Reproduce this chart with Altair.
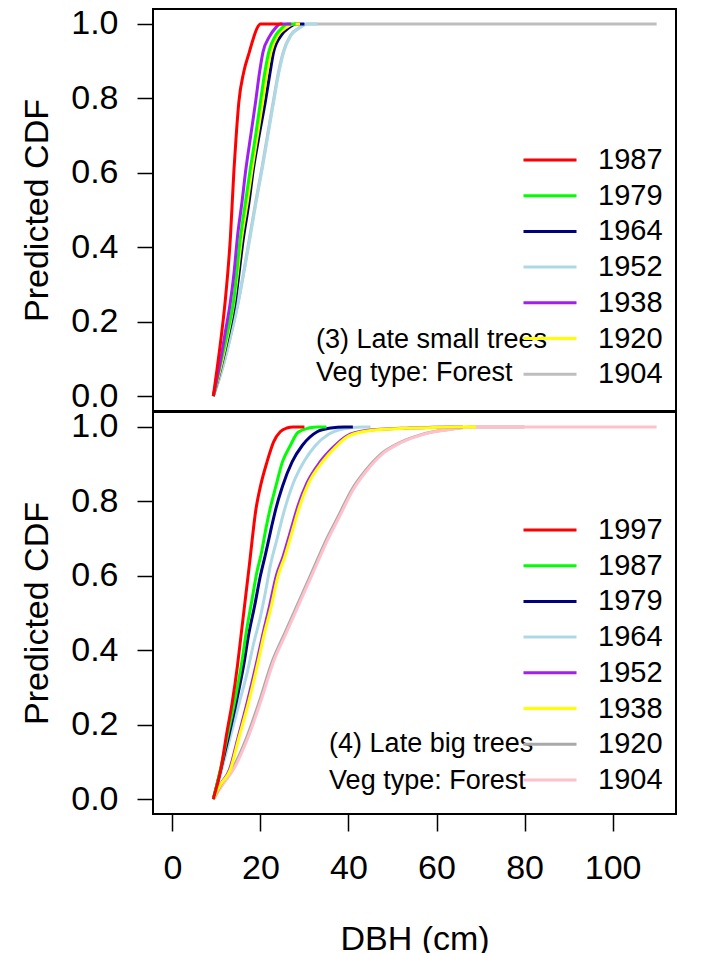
import altair as alt
import pandas as pd

# ---------------- data ----------------
x_ticks = [0, 20, 40, 60, 80, 100]
y_ticks = [0.0, 0.2, 0.4, 0.6, 0.8, 1.0]

# Panel (3): late small trees
years_top = ["1987", "1979", "1964", "1952", "1938", "1920", "1904"]
colors_top = ["#ff0000", "#00ff00", "#000080", "#add8e6", "#a020f0", "#ffff00", "#bebebe"]
widths_top = [3, 3, 3, 4.5, 3, 3.5, 3]
draw_order_top = ["1904", "1952", "1964", "1920", "1979", "1938", "1987"]

red87_x = [9.3, 10, 11, 12, 13.2, 14, 14.5, 15.1, 16.2, 17.5, 18.5, 19.3, 20, 25]
red87_y = [0, 0.06, 0.15, 0.255, 0.43, 0.61, 0.70, 0.79, 0.87, 0.925, 0.965, 0.99, 1.0, 1.0]
grn79_x = [9.3, 11, 12.5, 13.9, 15.5, 16.6, 17.7, 18.9, 20, 21, 21.9, 23.5, 25, 26, 28]
grn79_y = [0, 0.09, 0.17, 0.255, 0.43, 0.52, 0.61, 0.70, 0.79, 0.87, 0.925, 0.97, 0.99, 1.0, 1.0]
nav64_x = [9.3, 11, 12.5, 14.3, 16.2, 17.4, 18.4, 19.7, 21.1, 22.2, 23, 24.8, 26.5, 28, 30]
nav64_y = [0, 0.075, 0.15, 0.255, 0.43, 0.52, 0.61, 0.70, 0.79, 0.87, 0.925, 0.97, 0.99, 1.0, 1.0]
lbl52_x = [9.3, 11, 13, 15, 17.7, 19, 20.4, 21.7, 23, 24.2, 25.3, 27, 29, 30.6, 33]
lbl52_y = [0, 0.06, 0.15, 0.255, 0.43, 0.52, 0.61, 0.70, 0.79, 0.87, 0.925, 0.97, 0.99, 1.0, 1.0]
pur38_x = [9.3, 11, 12, 13.2, 14, 14.8, 15.8, 16.7, 17.8, 18.9, 19.8, 20.6, 22, 23.5, 24.5, 27]
pur38_y = [0, 0.10, 0.17, 0.255, 0.33, 0.43, 0.52, 0.61, 0.70, 0.79, 0.87, 0.925, 0.965, 0.99, 1.0, 1.0]
yel20_x = [9.3, 11, 12.5, 14, 15.8, 17, 18.1, 19.3, 20.5, 21.5, 22.4, 24, 25.8, 27.5, 29]
yel20_y = [0, 0.08, 0.16, 0.255, 0.43, 0.52, 0.61, 0.70, 0.79, 0.87, 0.925, 0.97, 0.99, 1.0, 1.0]
gry04_x = [9.3, 11, 13, 15, 17.6, 18.9, 20.3, 21.6, 22.9, 24.1, 25.2, 26.9, 28.9, 30.5, 110]
gry04_y = [0, 0.06, 0.15, 0.255, 0.43, 0.52, 0.61, 0.70, 0.79, 0.87, 0.925, 0.97, 0.99, 1.0, 1.0]

series_top = {
    "1987": (red87_x, red87_y), "1979": (grn79_x, grn79_y), "1964": (nav64_x, nav64_y),
    "1952": (lbl52_x, lbl52_y), "1938": (pur38_x, pur38_y), "1920": (yel20_x, yel20_y),
    "1904": (gry04_x, gry04_y),
}
notes_top = ["(3) Late small trees", "Veg type: Forest"]
notes_top_x = [32.6, 32.6]
notes_top_y = [0.150, 0.062]

# Panel (4): late big trees
years_bot = ["1997", "1987", "1979", "1964", "1952", "1938", "1920", "1904"]
colors_bot = ["#ff0000", "#00ff00", "#000080", "#add8e6", "#a020f0", "#ffff00", "#a9a9a9", "#ffc0cb"]
widths_bot = [3, 3, 3, 4.5, 2.5, 3.5, 3, 5.5]
draw_order_bot = ["1920", "1904", "1964", "1979", "1987", "1952", "1938", "1997"]

red97_x = [9.3, 11, 12.4, 13.6, 14.8, 15.6, 16.5, 17.5, 19, 20, 21.5, 23, 24.5, 26, 27.5, 30]
red97_y = [0, 0.08, 0.18, 0.26, 0.36, 0.44, 0.53, 0.63, 0.78, 0.84, 0.906, 0.96, 0.987, 0.997, 1.0, 1.0]
grn87_x = [9.3, 11, 12.6, 14.2, 15.8, 16.8, 18, 19.2, 20.2, 21.3, 22.2, 23.5, 25, 26.8, 28.5, 31, 33, 35]
grn87_y = [0, 0.085, 0.175, 0.265, 0.37, 0.45, 0.53, 0.61, 0.66, 0.73, 0.78, 0.84, 0.906, 0.95, 0.985, 0.997, 1.0, 1.0]
nav79_x = [9.3, 11, 12.8, 14.5, 16.2, 17.3, 18.7, 20, 21.2, 22.5, 23.5, 25, 27.2, 29.5, 32.9, 36, 39, 41]
nav79_y = [0, 0.08, 0.17, 0.26, 0.36, 0.44, 0.52, 0.60, 0.66, 0.73, 0.78, 0.84, 0.906, 0.95, 0.987, 0.997, 1.0, 1.0]
lbl64_x = [9.3, 11, 13, 15, 17, 18.5, 20, 21.2, 22.3, 23.8, 25.3, 27.5, 29.8, 32.5, 35.5, 39, 43, 45]
lbl64_y = [0, 0.07, 0.16, 0.25, 0.34, 0.42, 0.49, 0.56, 0.63, 0.70, 0.77, 0.85, 0.905, 0.95, 0.98, 0.995, 1.0, 1.0]
yel38_x = [9.3, 11, 13.2, 15, 17.3, 19.5, 20.8, 22.5, 24, 25.5, 27, 29, 31, 34, 37, 40, 45, 55, 65, 69]
yel38_y = [0, 0.04, 0.08, 0.16, 0.26, 0.37, 0.44, 0.52, 0.60, 0.65, 0.71, 0.79, 0.85, 0.905, 0.945, 0.975, 0.99, 0.997, 1.0, 1.0]
pur52_x = [9.3, 11, 13, 14.8, 17, 19.2, 20.5, 22.1, 23.6, 25.1, 26.6, 28.6, 30.6, 33.5, 36.5, 39.5, 44, 54, 63, 66]
pur52_y = [0, 0.04, 0.08, 0.16, 0.26, 0.37, 0.44, 0.52, 0.60, 0.65, 0.71, 0.79, 0.85, 0.905, 0.945, 0.975, 0.99, 0.997, 1.0, 1.0]
pnk04_x = [9.3, 11.5, 13.9, 17, 20, 23, 26, 29, 32, 35, 38, 41, 44, 48, 52, 57, 63, 68, 110]
pnk04_y = [0, 0.04, 0.08, 0.16, 0.26, 0.37, 0.45, 0.53, 0.61, 0.69, 0.76, 0.83, 0.88, 0.93, 0.958, 0.98, 0.993, 1.0, 1.0]
gry20_x = [9.3, 11.3, 13.6, 16.7, 19.7, 22.7, 25.7, 28.7, 31.7, 34.7, 37.7, 40.7, 43.7, 47.7, 51.7, 56.7, 62.7, 67.7, 80]
gry20_y = [0, 0.04, 0.08, 0.16, 0.26, 0.37, 0.45, 0.53, 0.61, 0.69, 0.76, 0.83, 0.88, 0.93, 0.958, 0.98, 0.993, 1.0, 1.0]

series_bot = {
    "1997": (red97_x, red97_y), "1987": (grn87_x, grn87_y), "1979": (nav79_x, nav79_y),
    "1964": (lbl64_x, lbl64_y), "1952": (pur52_x, pur52_y), "1938": (yel38_x, yel38_y),
    "1920": (gry20_x, gry20_y), "1904": (pnk04_x, pnk04_y),
}
notes_bot = ["(4) Late big trees", "Veg type: Forest"]
notes_bot_x = [35.6, 35.6]
notes_bot_y = [0.147, 0.048]

FONT = "Liberation Sans"


def make_df(series, order):
    rows = []
    for rank, yr in enumerate(order):
        xs, ys = series[yr]
        for i, (xv, yv) in enumerate(zip(xs, ys)):
            rows.append({"year": yr, "dbh": xv, "cdf": yv, "i": i, "z": rank})
    return pd.DataFrame(rows)


def panel(series, order, years, colors, widths, notes, nx, ny, show_x, legend_y):
    df = make_df(series, order)
    ann = pd.DataFrame({"label": notes, "dbh": nx, "cdf": ny})
    xscale = alt.Scale(domain=[-4.4, 114.4], nice=False, zero=False)
    yscale = alt.Scale(domain=[-0.04, 1.04], nice=False, zero=False)
    if show_x:
        xaxis = alt.Axis(values=x_ticks, title="DBH (cm)", tickSize=17, labelPadding=20,
                         labelFontSize=34, titleFontSize=34, titlePadding=37,
                         domain=False, grid=False, titleFontWeight="normal")
    else:
        xaxis = None
    yaxis = alt.Axis(values=y_ticks, format=".1f", title="Predicted CDF", tickSize=16,
                     labelPadding=19, labelFontSize=34, titleFontSize=34, titlePadding=16,
                     domain=False, grid=False, titleFontWeight="normal")
    lines = alt.Chart(df).mark_line(clip=True, interpolate="monotone").encode(
        x=alt.X("dbh:Q", scale=xscale, axis=xaxis),
        y=alt.Y("cdf:Q", scale=yscale, axis=yaxis),
        color=alt.Color("year:N", scale=alt.Scale(domain=years, range=colors), sort=years,
                        legend=alt.Legend(orient="none", legendX=369, legendY=legend_y, title=None,
                                          symbolType="stroke", symbolSize=2809, symbolStrokeWidth=3,
                                          labelFontSize=29, labelOffset=20, padding=0,
                                          labelColor="black", clipHeight=30, rowPadding=5.7)),
        strokeWidth=alt.StrokeWidth("year:N", scale=alt.Scale(domain=years, range=widths), legend=None),
        order=alt.Order("i:Q"),
    )
    text = alt.Chart(ann).mark_text(align="left", baseline="middle", fontSize=27, color="black",
                                    font=FONT).encode(
        x=alt.X("dbh:Q", scale=xscale, axis=xaxis),
        y=alt.Y("cdf:Q", scale=yscale, axis=yaxis),
        text="label:N",
    )
    return alt.layer(lines, text).properties(width=523, height=402)


top = panel(series_top, draw_order_top, years_top, colors_top, widths_top,
            notes_top, notes_top_x, notes_top_y, False, 136)
bot = panel(series_bot, draw_order_bot, years_bot, colors_bot, widths_bot,
            notes_bot, notes_bot_x, notes_bot_y, True, 103)

chart = alt.vconcat(top, bot, spacing=1, bounds="flush").resolve_scale(
    color="independent", strokeWidth="independent"
).properties(
    padding={"left": 11, "top": -3, "right": 0, "bottom": 0}
).configure(
    font=FONT, background="white"
).configure_view(
    stroke="black", strokeWidth=2
).configure_axis(
    labelColor="black", titleColor="black", tickColor="black", tickWidth=1.5,
    labelFont=FONT, titleFont=FONT
).configure_legend(
    labelFont=FONT
)

chart.save("out.html", embed_options={"renderer": "svg", "actions": False})
